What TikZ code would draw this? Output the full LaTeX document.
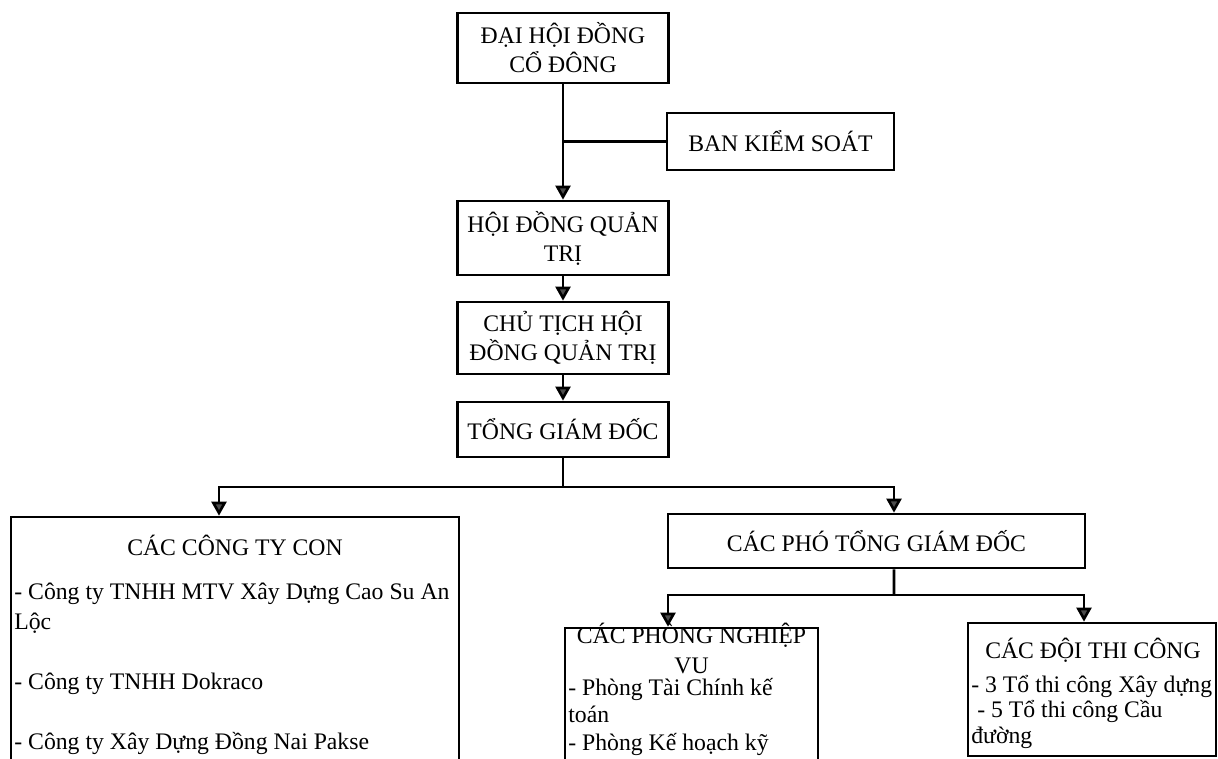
\documentclass[tikz,border=0pt]{standalone}
\usepackage{fontspec}
\setmainfont{Liberation Serif}
\usetikzlibrary{arrows.meta, positioning}

\begin{document}
\begin{tikzpicture}[x=0.02cm, y=-0.02cm,
        box/.style={draw, line width=1.5pt, align=center, inner sep=0pt, font=\fontsize{13.5}{16.5}\selectfont},
        txt/.style={inner sep=0pt, font=\fontsize{13.5}{15}\selectfont},
        link/.style={line width=1.5pt},
        arr/.style={link, -{Triangle[width=8.5pt, length=8pt, fill=black!70]}}]
            \useasboundingbox (0,0) rectangle (1218,758);
            \clip (0,0) rectangle (1218,758);
            % top column
            \node[box, minimum width=4.22cm, minimum height=1.4cm] (dhdcd) at (563,48) {ĐẠI HỘI ĐỒNG\\CỔ ĐÔNG};
            \node[box, minimum width=4.54cm, minimum height=1.14cm] (bks) at (780.5,141.5) {BAN KIỂM SOÁT};
            \node[box, minimum width=4.22cm, minimum height=1.48cm] (hdqt) at (563,238) {HỘI ĐỒNG QUẢN\\TRỊ};
            \node[box, minimum width=4.22cm, minimum height=1.44cm] (ctich) at (563,338) {CHỦ TỊCH HỘI\\ĐỒNG QUẢN TRỊ};
            \node[box, minimum width=4.22cm, minimum height=1.1cm] (tgd) at (563,429.5) {TỔNG GIÁM ĐỐC};
            \node[box, minimum width=8.34cm, minimum height=1.08cm] (cpho) at (876.5,541) {CÁC PHÓ TỔNG GIÁM ĐỐC};
            % lower boxes, cut by the page edge
            \node[box, minimum width=8.96cm, minimum height=4.96cm] (ctycon) at (235,641) {};
            \node[box, minimum width=5.06cm, minimum height=2.74cm] (cphong) at (691.5,696.5) {};
            \node[box, minimum width=4.96cm, minimum height=2.66cm] (cdoi) at (1092,689.5) {};
            \node[txt] (ctyconT) at (235,545) {CÁC CÔNG TY CON};
            \node[txt, align=left, anchor=base west, font=\fontsize{13.5}{17}\selectfont] (ctyconL) at (14,749)
                {- Công ty TNHH MTV Xây Dựng Cao Su An\\Lộc\\[0.6cm]- Công ty TNHH Dokraco\\[0.6cm]- Công ty Xây Dựng Đồng Nai Pakse};
            \node[txt, align=center, anchor=base, font=\fontsize{13.5}{17}\selectfont] (cphongT) at (691.5,673) {CÁC PHÒNG NGHIỆP\\VU};
            \node[txt, align=left, anchor=base west, font=\fontsize{13.5}{15.5}\selectfont] (cphongL) at (568,750) {- Phòng Tài Chính kế\\toán\\- Phòng Kế hoạch kỹ};
            \node[txt] (cdoiT) at (1093,650) {CÁC ĐỘI THI CÔNG};
            \node[txt, align=left, anchor=base west, font=\fontsize{13.5}{14.5}\selectfont] (cdoiL) at (971,743) {- 3 Tổ thi công Xây dựng\\\ - 5 Tổ thi công Cầu\\đường};
            % connectors
            \draw[arr] (dhdcd) -- (hdqt);
            \draw[link] (bks.west) -- (bks.west -| dhdcd.south);
            \draw[arr] (hdqt) -- (ctich);
            \draw[arr] (ctich) -- (tgd);
            \coordinate (split1) at (563,487);
            \draw[link] (tgd.south) -- (split1);
            \draw[arr] (split1) -| ([xshift=-0.32cm]ctycon.north);
            \draw[arr] (split1) -| ([xshift=0.35cm]cpho.north);
            \coordinate (split2) at (894,595);
            \draw[link] ([xshift=0.35cm]cpho.south) -- (split2);
            \draw[arr] (split2) -| ([xshift=-0.47cm]cphong.north);
            \draw[arr] (split2) -| ([xshift=-0.16cm]cdoi.north);
        \end{tikzpicture}
\end{document}
